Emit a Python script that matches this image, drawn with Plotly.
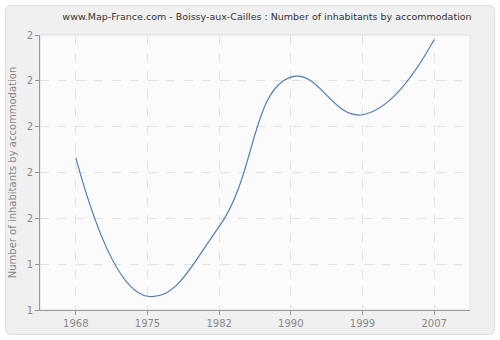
import plotly.graph_objects as go

years = ["1968", "1975", "1982", "1990", "1999", "2007"]
ratio = [1.566, 1.415, 1.491, 1.654, 1.613, 1.695]
ytick_vals = [1.4, 1.45, 1.5, 1.55, 1.6, 1.65, 1.7]
ytick_text = ["1", "1", "2", "2", "2", "2", "2"]

W, H = 500, 340
L, R, T, B = 40, 30, 35, 30
pw, ph = W - L - R, H - T - B

def X(px):
    return (px - L) / pw

def Y(py):
    return (H - B - py) / ph

def rounded(x0, y0, x1, y1, r):
    return (f"M{X(x0+r)},{Y(y0)} L{X(x1-r)},{Y(y0)} Q{X(x1)},{Y(y0)} {X(x1)},{Y(y0+r)} "
            f"L{X(x1)},{Y(y1-r)} Q{X(x1)},{Y(y1)} {X(x1-r)},{Y(y1)} "
            f"L{X(x0+r)},{Y(y1)} Q{X(x0)},{Y(y1)} {X(x0)},{Y(y1-r)} "
            f"L{X(x0)},{Y(y0+r)} Q{X(x0)},{Y(y0)} {X(x0+r)},{Y(y0)} Z")

outer = rounded(5.5, 5.5, 494.5, 334.5, 6)
inner = "M0,0 L0,1 L1,1 L1,0 Z"

fig = go.Figure()
fig.add_trace(go.Scatter(
    x=years, y=ratio, mode="lines",
    line=dict(color="#4f7db5", width=1.2, shape="spline", smoothing=1.3),
    hoverinfo="skip", showlegend=False,
))

fig.update_layout(
    width=W, height=H,
    margin=dict(l=L, r=R, t=T, b=B, autoexpand=False),
    paper_bgcolor="white",
    plot_bgcolor="#fbfbfb",
    font=dict(family="DejaVu Sans", size=10, color="#888888"),
    title=dict(text="www.Map-France.com - Boissy-aux-Cailles : Number of inhabitants by accommodation",
               x=0.534, xanchor="center", y=1 - 17 / H, yanchor="middle",
               font=dict(family="DejaVu Sans", size=9.5, color="#333333")),
    shapes=[
        dict(type="path", xref="paper", yref="paper", path=outer + " " + inner,
             fillcolor="#f0f0f0", line=dict(width=0), fillrule="evenodd", layer="below"),
        dict(type="path", xref="paper", yref="paper", path=outer,
             fillcolor="rgba(0,0,0,0)", line=dict(color="#dcdcdc", width=1), layer="below"),
        dict(type="rect", xref="paper", yref="paper", x0=0, y0=0, x1=1, y1=1,
             fillcolor="rgba(0,0,0,0)", line=dict(color="#dddddd", width=1), layer="below"),
    ],
    xaxis=dict(
        type="category", range=[-0.5, 5.5], automargin=False,
        showgrid=True, gridcolor="#e2e2e2", griddash="dash", gridwidth=1,
        showline=True, linecolor="#999999", linewidth=1,
        ticks="outside", ticklen=4, tickcolor="#999999",
        zeroline=False, fixedrange=True,
    ),
    yaxis=dict(
        range=[1.4, 1.7], tickvals=ytick_vals, ticktext=ytick_text, automargin=False,
        showgrid=True, gridcolor="#e2e2e2", griddash="dash", gridwidth=1,
        showline=True, linecolor="#999999", linewidth=1,
        ticks="outside", ticklen=4, tickcolor="#999999",
        zeroline=False, fixedrange=True,
        title=dict(text="Number of inhabitants by accommodation", standoff=8,
                   font=dict(family="DejaVu Sans", size=10, color="#888888")),
    ),
)

fig.write_html("out.html")
